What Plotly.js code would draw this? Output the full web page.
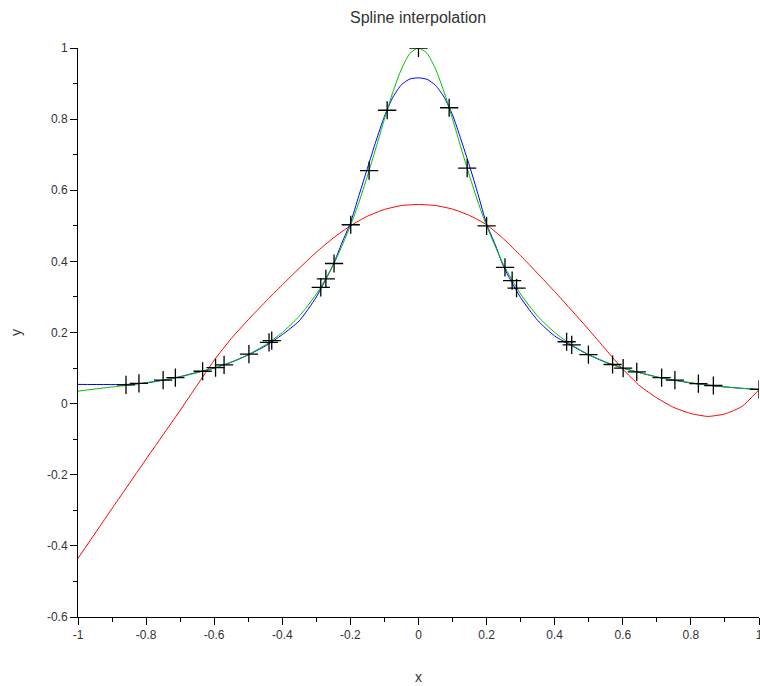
<!DOCTYPE html>
<html>
<head>
<meta charset="utf-8">
<script src="https://cdn.plot.ly/plotly-3.0.1.min.js"></script>
<style>html,body{margin:0;padding:0;background:#fff;}#chart{width:760px;height:686px;}</style>
</head>
<body>
<div id="chart"></div>
<script>
// Data points (+ markers)
const ptX = [-0.859,-0.821,-0.750,-0.714,-0.634,-0.596,-0.571,-0.498,-0.439,-0.431,-0.287,-0.272,-0.248,-0.199,-0.145,-0.092,0.0,0.090,0.143,0.200,0.254,0.275,0.288,0.435,0.450,0.499,0.570,0.601,0.641,0.714,0.753,0.822,0.866,1.0];
const ptY = [0.053,0.057,0.066,0.073,0.091,0.101,0.109,0.139,0.172,0.177,0.327,0.351,0.394,0.503,0.655,0.825,1.0,0.832,0.662,0.500,0.383,0.346,0.325,0.174,0.165,0.138,0.110,0.100,0.089,0.073,0.066,0.056,0.051,0.040];

// Green curve
const greenX = [-1,-0.95,-0.9,-0.85,-0.8,-0.75,-0.7,-0.65,-0.6,-0.55,-0.5,-0.45,-0.4,-0.35,-0.3,-0.25,-0.2,-0.175,-0.15,-0.125,-0.1,-0.075,-0.05,-0.025,0,0.025,0.05,0.075,0.1,0.125,0.15,0.175,0.2,0.25,0.3,0.35,0.4,0.45,0.5,0.55,0.6,0.65,0.7,0.75,0.8,0.85,0.9,0.95,1];
const greenY = [0.035,0.041,0.047,0.052,0.059,0.066,0.075,0.087,0.100,0.117,0.138,0.165,0.200,0.246,0.308,0.390,0.500,0.566,0.640,0.719,0.800,0.877,0.941,0.985,1.0,0.985,0.941,0.877,0.800,0.719,0.640,0.566,0.500,0.390,0.308,0.246,0.200,0.165,0.138,0.117,0.100,0.087,0.075,0.066,0.059,0.052,0.047,0.043,0.040];

// Blue curve
const blueX = [-1,-0.859,-0.8,-0.75,-0.7,-0.65,-0.6,-0.55,-0.5,-0.45,-0.4,-0.35,-0.3,-0.25,-0.225,-0.2,-0.175,-0.15,-0.125,-0.1,-0.075,-0.05,-0.025,0,0.025,0.05,0.075,0.1,0.125,0.15,0.175,0.2,0.225,0.25,0.3,0.35,0.4,0.45,0.5,0.55,0.6,0.65,0.7,0.75,0.8,0.85,0.9,0.95,1];
const blueY = [0.054,0.054,0.058,0.066,0.076,0.088,0.100,0.116,0.137,0.162,0.194,0.233,0.300,0.392,0.452,0.508,0.585,0.662,0.738,0.808,0.862,0.897,0.913,0.916,0.912,0.895,0.862,0.812,0.742,0.668,0.588,0.505,0.448,0.385,0.298,0.234,0.190,0.163,0.137,0.116,0.100,0.087,0.075,0.066,0.058,0.052,0.047,0.043,0.040];

// Red curve
const redX = [-1,-0.9,-0.8,-0.7,-0.65,-0.6,-0.55,-0.5,-0.45,-0.4,-0.35,-0.3,-0.25,-0.2,-0.15,-0.1,-0.05,0,0.05,0.1,0.15,0.2,0.25,0.3,0.35,0.4,0.45,0.5,0.55,0.6,0.65,0.7,0.75,0.8,0.85,0.9,0.95,1];
const redY = [-0.435,-0.295,-0.156,-0.019,0.052,0.122,0.183,0.236,0.286,0.334,0.381,0.426,0.466,0.500,0.527,0.546,0.557,0.560,0.557,0.547,0.529,0.503,0.463,0.416,0.366,0.315,0.262,0.208,0.152,0.097,0.050,0.016,-0.011,-0.028,-0.036,-0.029,-0.008,0.039];

// Tick labels
const xTickVals = [-1,-0.8,-0.6,-0.4,-0.2,0,0.2,0.4,0.6,0.8,1];
const xTickText = ["-1","-0.8","-0.6","-0.4","-0.2","0","0.2","0.4","0.6","0.8","1"];
const yTickVals = [-0.6,-0.4,-0.2,0,0.2,0.4,0.6,0.8,1];
const yTickText = ["-0.6","-0.4","-0.2","0","0.2","0.4","0.6","0.8","1"];

const traces = [
  {x: redX, y: redY, mode: 'lines', line: {color: '#ff0000', width: 1, shape: 'spline', smoothing: 0.5}, hoverinfo: 'skip'},
  {x: blueX, y: blueY, mode: 'lines', line: {color: '#0000ff', width: 1, shape: 'spline', smoothing: 0.6}, hoverinfo: 'skip'},
  {x: greenX, y: greenY, mode: 'lines', line: {color: '#00c000', width: 1, shape: 'spline', smoothing: 0.6}, hoverinfo: 'skip'},
  {x: ptX, y: ptY, mode: 'markers', marker: {symbol: 'cross-thin-open', size: 13, color: '#000', line: {color: '#000', width: 1.3}}, hoverinfo: 'skip'}
];

const axisCommon = {
  showgrid: false, zeroline: false, showline: true, linecolor: '#000', linewidth: 1,
  ticks: 'outside', ticklen: 7, tickcolor: '#000', tickwidth: 1,
  tickmode: 'array', ticklabeloverflow: 'allow',
  tickfont: {family: 'Liberation Sans, Arial, sans-serif', size: 12, color: '#333'},
  minor: {ticks: 'outside', ticklen: 4, tickcolor: '#000', dtick: 0.1, showgrid: false}
};

const layout = {
  width: 760, height: 686,
  margin: {l: 78, r: 1, t: 48, b: 69},
  paper_bgcolor: '#fff', plot_bgcolor: '#fff',
  showlegend: false,
  title: {text: 'Spline interpolation', x: 0.55, xanchor: 'center', y: 0.975, yanchor: 'middle',
          font: {family: 'Liberation Sans, Arial, sans-serif', size: 16, color: '#333'}},
  xaxis: Object.assign({}, axisCommon, {
    range: [-1, 1], tickvals: xTickVals, ticktext: xTickText,
    title: {text: 'x', standoff: 30, font: {family: 'Liberation Sans, Arial, sans-serif', size: 14, color: '#333'}}
  }),
  yaxis: Object.assign({}, axisCommon, {
    range: [-0.6, 1], tickvals: yTickVals, ticktext: yTickText,
    title: {text: 'y', standoff: 22, font: {family: 'Liberation Sans, Arial, sans-serif', size: 14, color: '#333'}}
  })
};

Plotly.newPlot('chart', traces, layout, {staticPlot: true, displayModeBar: false});
</script>
</body>
</html>
